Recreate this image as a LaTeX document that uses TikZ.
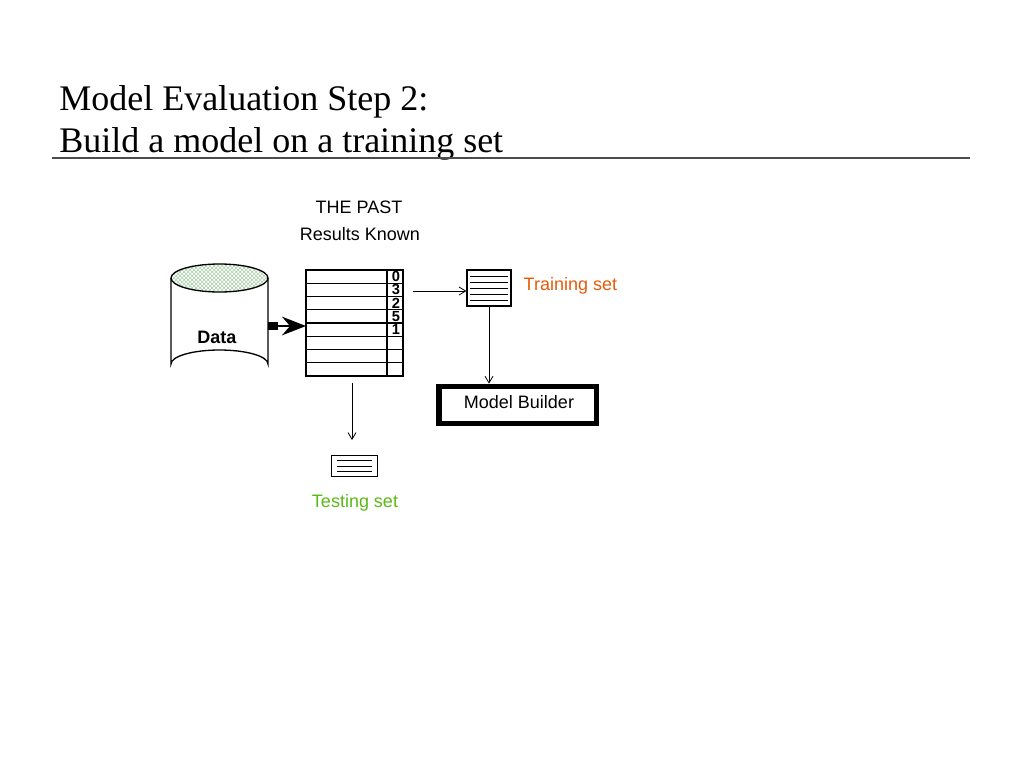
\documentclass[tikz,border=0pt]{standalone}
\usepackage{fontspec}
\setmainfont{Liberation Serif}
\setsansfont{Liberation Sans}
\usepackage{tikz}
\usetikzlibrary{patterns,arrows.meta}
\definecolor{trainorange}{RGB}{230,90,10}
\definecolor{testgreen}{RGB}{90,185,20}
\tikzset{
  lbl/.style={font=\sffamily\fontsize{13.5}{15}\selectfont},
  doc/.style={draw=black, line width=0.8pt, fill=white},
  flow/.style={-{Straight Barb[length=5pt,width=6pt]}, line width=0.6pt},
}
\begin{document}
\begin{tikzpicture}[x=0.75pt,y=-0.75pt]
  \useasboundingbox (0,0) rectangle (1024,768);
  % title
  \node[anchor=base west, font=\fontsize{27}{30}\selectfont, inner sep=0] (t1) at (59,110) {Model Evaluation Step 2:};
  \node[anchor=base west, font=\fontsize{27}{30}\selectfont, inner sep=0] (t2) at (59,152) {Build a model on a training set};
  \draw[line width=0.8pt, black!70] (52,158) -- (970,158);

  \node[lbl] (past) at (359,207) {THE PAST};
  \node[lbl] (known) at (360,234) {Results Known};

  % data cylinder
  \fill[pattern=crosshatch, pattern color=green!45!black!35] (219.5,278) ellipse (48.5 and 14);
  \draw[line width=1pt] (171,278) -- (171,364) arc[start angle=180, end angle=360, x radius=48.5, y radius=14] -- (268,278);
  \draw[line width=1pt] (219.5,278) ellipse (48.5 and 14);
  \node[font=\sffamily\bfseries\fontsize{13.5}{15}\selectfont] (data) at (217,337) {Data};
  \coordinate (dout) at (268,326);

  % table
  \draw[line width=0.8pt] (306,270) rectangle (403,376);
  \foreach \i in {1,...,7} \draw[line width=0.8pt] (306,270+13.25*\i) -- (403,270+13.25*\i);
  \draw[line width=0.8pt] (387,270) -- (387,376);
  \foreach \v [count=\i] in {0,3,2,5,1}
    \node[font=\sffamily\bfseries\fontsize{11}{11}\selectfont, inner sep=0] (n\i) at (396,276.6+13.25*\i-13.25) {\v};
  \coordinate (tin) at (306,326);
  \draw[line width=6pt] (dout) -- (278,326);
  \draw[-{Stealth[length=18pt,width=14pt,inset=6pt]}, line width=1pt] (278,326) -- (tin);

  % training set
  \node[doc, minimum width=33pt, minimum height=27pt, inner sep=0] (train) at (489,288) {};
  \foreach \y in {-9,-4.5,0,4.5,9} \draw[line width=0.6pt] ([xshift=-14,yshift=\y]train.center) -- ([xshift=14,yshift=\y]train.center);
  \node[lbl, text=trainorange, anchor=west] (trainl) at (519,286) {Training set};
  \coordinate (tout) at (413,291);
  \draw[flow] (tout) -- (train.west |- tout);

  \node[draw, line width=4pt, minimum width=118pt, minimum height=28pt, inner sep=0, lbl] (mb) at (517.5,405) {};
  \node[lbl] (mbl) at (519,402) {Model Builder};
  \draw[flow] (train.south) -- (train.south |- mb.north);

  % testing set
  \coordinate (tdown) at (352,383);
  \node[doc, minimum width=34pt, minimum height=16pt, inner sep=0] (test) at (354.5,466) {};
  \foreach \y in {-4,0,4} \draw[line width=0.6pt] ([xshift=-13,yshift=\y]test.center) -- ([xshift=13,yshift=\y]test.center);
  \draw[flow] (tdown) -- (352,440);
  \node[lbl, text=testgreen] (testl) at (355,503) {Testing set};
\end{tikzpicture}
\end{document}
